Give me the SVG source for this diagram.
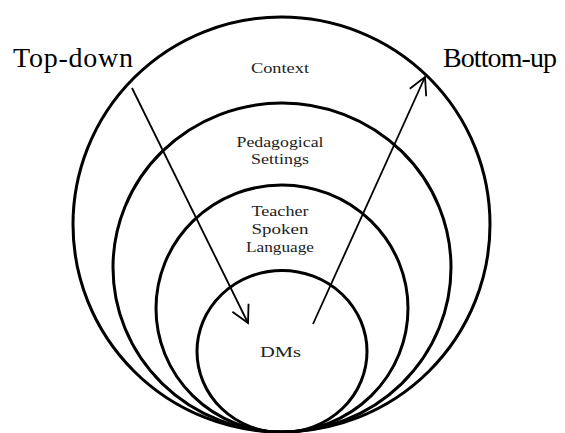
<svg xmlns="http://www.w3.org/2000/svg" width="565" height="433" viewBox="0 0 565 433">
<defs>
<style>
.ring{fill:none;stroke:#000;stroke-width:3}
.lbl{font-family:"Liberation Serif","Times New Roman",serif;font-size:15.5px;fill:#222;text-anchor:middle}
.big{font-family:"Liberation Serif","Times New Roman",serif;font-size:28px;fill:#000}
.arr{fill:none;stroke:#000;stroke-width:1.8}
</style>
<marker id="vhead" viewBox="0 0 20 20" refX="18" refY="10" markerWidth="20" markerHeight="20" markerUnits="userSpaceOnUse" orient="auto">
<path d="M1,1 L18,10 L1,19" fill="none" stroke="#000" stroke-width="1.8"/>
</marker>
</defs>
<rect width="565" height="433" fill="#fff"/>
<g id="context">
<ellipse class="ring" cx="281.5" cy="224.5" rx="208.5" ry="207.5"/>
<text class="lbl" x="280" y="73" textLength="58" lengthAdjust="spacingAndGlyphs">Context</text>
</g>
<g id="pedagogical-settings">
<ellipse class="ring" cx="282" cy="267.5" rx="169" ry="164.5"/>
<text class="lbl" x="280" y="147" textLength="87" lengthAdjust="spacingAndGlyphs">Pedagogical</text>
<text class="lbl" x="280" y="164" textLength="58" lengthAdjust="spacingAndGlyphs">Settings</text>
</g>
<g id="teacher-spoken-language">
<ellipse class="ring" cx="282" cy="308.5" rx="126" ry="123.5"/>
<text class="lbl" x="280" y="216" textLength="57" lengthAdjust="spacingAndGlyphs">Teacher</text>
<text class="lbl" x="280" y="234" textLength="57" lengthAdjust="spacingAndGlyphs">Spoken</text>
<text class="lbl" x="280" y="252" textLength="68" lengthAdjust="spacingAndGlyphs">Language</text>
</g>
<g id="dms">
<ellipse class="ring" cx="282" cy="351.5" rx="85" ry="81"/>
<text class="lbl" x="280.5" y="357" textLength="41" lengthAdjust="spacingAndGlyphs">DMs</text>
</g>
<g id="top-down">
<text class="big" x="13" y="67" textLength="120">Top-down</text>
</g>
<g id="bottom-up">
<text class="big" x="443" y="67" textLength="114">Bottom-up</text>
</g>
<g id="connectors">
<line class="arr" x1="132" y1="88" x2="248" y2="323" marker-end="url(#vhead)"/>
<line class="arr" x1="313" y1="324" x2="425" y2="77" marker-end="url(#vhead)"/>
</g>
</svg>
